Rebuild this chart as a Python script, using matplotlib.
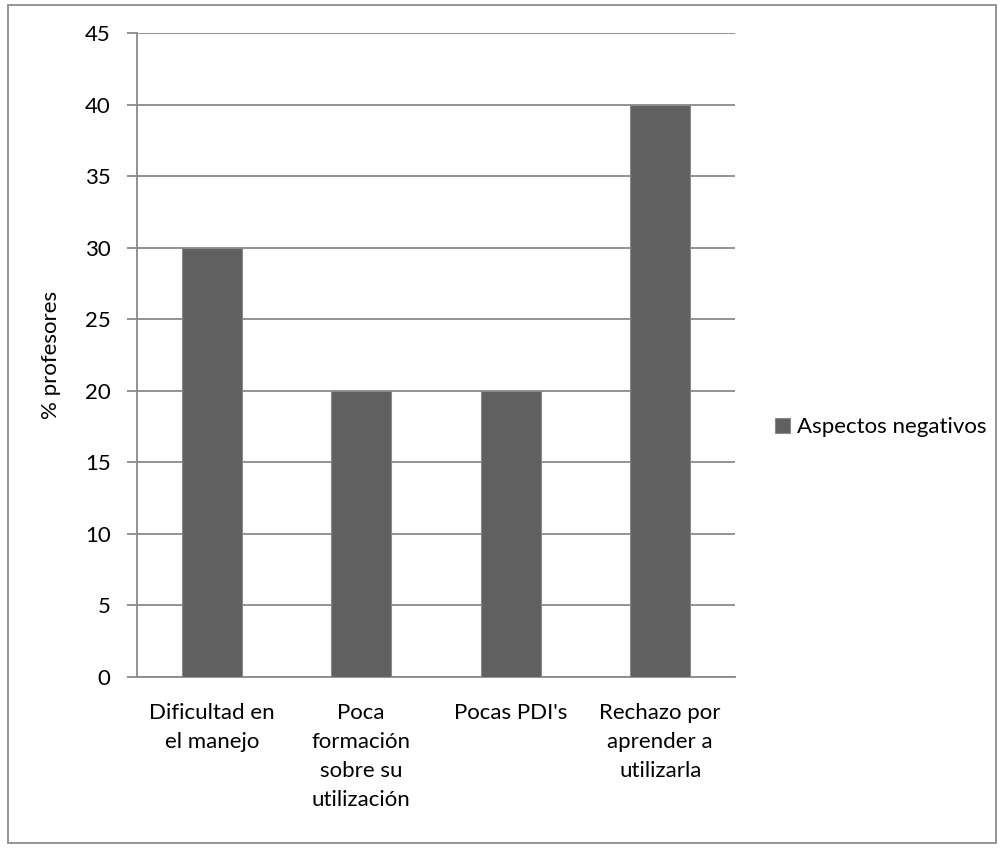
import matplotlib.pyplot as plt
from matplotlib.patches import Rectangle

categorias = ["Dificultad en\nel manejo", "Poca\nformación\nsobre su\nutilización",
              "Pocas PDI's", "Rechazo por\naprender a\nutilizarla"]
valores = [30, 20, 20, 40]
serie = "Aspectos negativos"

plt.rcParams['font.family'] = ['Lato', 'DejaVu Sans']
fs = 16

fig = plt.figure(figsize=(10.04, 8.48), dpi=100)
ax = fig.add_axes([137 / 1004, 1 - 677 / 848, 598 / 1004, 644 / 848])

# marco exterior del gráfico
fig.patches.append(Rectangle((8 / 1004, 5 / 848), 988 / 1004, 838 / 848,
                             transform=fig.transFigure, fill=False,
                             edgecolor='#8c8c8c', linewidth=1.3))

x = range(len(categorias))
ax.bar(x, valores, width=0.4, color='#606060', edgecolor='#8a8a8a',
       linewidth=0.8, label=serie, zorder=3)

ax.set_xlim(-0.5, len(categorias) - 0.5)
ax.set_ylim(0, 45)
ax.set_yticks(range(0, 46, 5))
ax.yaxis.grid(True, color='#8a8a8a', linewidth=1.3, zorder=0)

for s in ['top', 'right']:
    ax.spines[s].set_visible(False)
for s in ['left', 'bottom']:
    ax.spines[s].set_color('#8a8a8a')
    ax.spines[s].set_linewidth(1.3)

ax.tick_params(axis='y', length=7, width=1.3, color='#8a8a8a', pad=12,
               labelsize=fs, labelcolor='black')
ax.tick_params(axis='x', length=0, pad=19, labelsize=fs)
ax.set_xticks(list(x))
ax.set_xticklabels(categorias, linespacing=1.55, va='top')

ax.set_ylabel("% profesores", fontsize=fs, labelpad=17)

leg = ax.legend(loc='center left', bbox_to_anchor=(1.033, 0.388), frameon=False,
                fontsize=fs, handlelength=0.68, handleheight=0.68,
                handletextpad=0.3)

fig.savefig("out.png", dpi=100)
